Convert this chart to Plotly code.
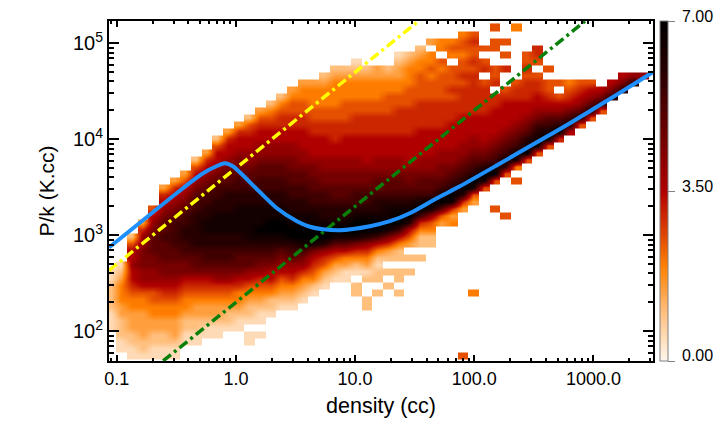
import plotly.graph_objects as go

# Each entry: (first row index from the top, level codes down the column)
# '.' = empty, 1..9,a..e = 0.5 .. 7.0 in steps of 0.5
COLUMNS = [
 (35,"112222111"),
 (34,"1234443322211"),
 (30,"257787765443332211"),
 (28,"36889998875443333221"),
 (26,"5789aaa998875544332211"),
 (23,"36789aabaaa99876544332211"),
 (22,"36789abbbbaa99876544333211"),
 (21,"35789abbccbba9"+"97654432211"),
 (19,"25789abbcccccbaa"+"97654332211"),
 (18,"36789abbccddccbba"+"9765433211"),
 (16,"257789abbccdddccbba"+"9865433211"),
 (15,"367789aabcccdddccbba"+"986543221"),
 (14,"3677899abbccddddccbaa"+"976443211"),
 (13,"25677889aabccdddddcbaa"+"87543221.11"),
 (12,"35677889aabbccdddedcba"+"986543211.1"),
 (11,"245677889aabbccddeedcb"+"a97754221"),
 (10,"2456677889aabbccddeedc"+"a98754321"),
 (9,"345566778899aabbccddeecb"+"a8764321"),
 (8,"3445566777889aabbccddeedb"+"9864321"),
 (8,"34445566777899aabbcddeed"+"9765421"),
 (7,"2344455667778899"+"abbccdeec865321"),
 (6,"23444455666778899"+"aabccdeda75321"),
 (6,"23444555667778899"+"aabccdeda74311"),
 (5,"123444556667778899"+"abbcdeed96421.22"),
 (6,"23444556667777899"+"abbcdeec864312..22"),
 (6,"3344455666777889"+"aabccdeeb742122.2"),
 (6,"2344555666777889"+"aabcdded9632.2.2"),
 (4,"123344556666777889"+"aabcdeeb7422.22.2"),
 (4,"2344455566667777899"+"abcdec753.2.2"),
 (3,"2344555566667777889"+"aabdeb6422.2"),
 (2,"3.445455566667777889"+"aabed85422"),
 (2,"44.54555566667778899"+"abdea53"),
 (2,"454.555656667777889"+"abced634"),
 (1,"4554556566667777889"+"abcec63"+"...................."+"5"),
 (1,"565565666666777889"+"abced53"+"............"+"4"),
 (3,"5.56.56666777789"+"aced5"),
 (0,"5.55..556.66777789"+"abde5...5"),
 (2,"5.5.6..56777789"+"abdc5.....5"),
 (0,"4.......56677789"+"abdd4.5"),
 (4,"55656667789"+"acde5"),
 (3,"665.5667789"+"bcde5"),
 (6,"5.55678abde5"),
 (8,"5.578ace6"),
 (8,"45679bd7"),
 (8,"5678ad5"),
 (8,"578ad5"),
 (9,"79c5"),
 (8,"79c"),
 (7,"79c"),
 (7,"8c"),
 (7,"8"),
]
N_ROWS = 49
X_FIRST_LOG, X_STEP_LOG = -1.05, 0.0895     # bin centres, log10 density
Y_TOP_LOG, Y_STEP_LOG = 5.17, 0.0729        # bin centres, log10 P/k

LINE_N = [0.086,0.129,0.201,0.359,0.529,0.70,0.809,0.944,1.53,2.21,3.25,4.18,5.37,7.45,13.3,19.6,28.8,48.5,75.7,155,335,634,1199,2312,3150]
LINE_P = [745,1114,1736,3090,4425,5300,5623,5230,2943,1910,1400,1226,1155,1127,1242,1400,1695,2427,3236,5358,9310,14680,23700,39260,49900]
YELLOW_N = [0.086, 34]
YELLOW_P = [430, 170000]
GREEN_N = [0.245, 850]
GREEN_P = [49, 170000]

X_TICKS = [0.1, 1, 10, 100, 1000]
X_LABELS = ["0.1", "1.0", "10.0", "100.0", "1000.0"]
Y_TICKS = [100, 1000, 10000, 100000]
Y_LABELS = ["10<sup>2</sup>", "10<sup>3</sup>", "10<sup>4</sup>", "10<sup>5</sup>"]
CB_TICKS = [0, 3.5, 7]
CB_LABELS = ["0.00", "3.50", "7.00"]

CODES = "123456789abcde"
z_top = [[None] * len(COLUMNS) for _ in range(N_ROWS)]
for i, (start, s) in enumerate(COLUMNS):
    for k, c in enumerate(s):
        if c != "." and start + k < N_ROWS:
            z_top[start + k][i] = (CODES.index(c) + 1) * 0.5
z = z_top[::-1]
xc = [10 ** (X_FIRST_LOG + X_STEP_LOG * i) for i in range(len(COLUMNS))]
yc = [10 ** (Y_TOP_LOG - Y_STEP_LOG * j) for j in range(N_ROWS)][::-1]

SCALE = [[0, "#fff6ee"], [0.14, "#ffc080"], [0.28, "#ff8000"], [0.38, "#dc4000"],
         [0.5, "#b00000"], [0.7, "#600000"], [0.85, "#280000"], [1, "#000000"]]

FONT = "Liberation Sans"
fig = go.Figure()
fig.add_trace(go.Heatmap(x=xc, y=yc, z=z, zmin=0, zmax=7, colorscale=SCALE, zsmooth="best",
    hoverongaps=False,
    colorbar=dict(x=1.0129, xanchor="left", xpad=0, ypad=0, thickness=8, len=1, y=0.5, yanchor="middle",
                  outlinecolor="#808080", outlinewidth=1, ticks="outside", ticklen=7, tickcolor="#808080",
                  tickwidth=1, tickvals=CB_TICKS, showticklabels=False)))
fig.add_trace(go.Scatter(x=YELLOW_N, y=YELLOW_P, mode="lines", showlegend=False,
    line=dict(color="#ffff00", width=3.5, dash="10px,4px,3px,4px")))
fig.add_trace(go.Scatter(x=GREEN_N, y=GREEN_P, mode="lines", showlegend=False,
    line=dict(color="#0a800a", width=3.5, dash="10px,4px,3px,4px")))
fig.add_trace(go.Scatter(x=LINE_N, y=LINE_P, mode="lines", showlegend=False,
    line=dict(color="#2090ff", width=4, shape="spline", smoothing=0.7)))

x_minor = [m * 10 ** e for e in range(-2, 4) for m in range(2, 10)]
y_minor = [m * 10 ** e for e in range(1, 6) for m in range(2, 10)]
axis = dict(showgrid=False, zeroline=False, showline=True, linecolor="black", linewidth=2,
            ticks="inside", tickcolor="black", tickwidth=1.5, mirror="allticks", tickmode="array")
cb_y = [0.0176, 0.5118, 1.0118]
fig.update_layout(
    width=725, height=425, margin=dict(l=109, r=72, t=21, b=64),
    paper_bgcolor="white", plot_bgcolor="white", showlegend=False,
    font=dict(family=FONT, color="black"),
    annotations=[dict(xref="paper", yref="paper", x=1.0533, y=yy, text=t, showarrow=False,
                      xanchor="left", yanchor="middle", xshift=-2, font=dict(family=FONT, size=16, color="black"))
                 for yy, t in zip(cb_y, CB_LABELS)],
    xaxis=dict(axis, type="log", range=[-1.065, 3.5], tickvals=X_TICKS, ticktext=X_LABELS, ticklen=6,
               tickfont=dict(size=18), minor=dict(ticks="inside", ticklen=3, tickvals=x_minor, tickcolor="black", tickwidth=1.5),
               title=dict(text="density (cc)", font=dict(size=21.5), standoff=10)),
    yaxis=dict(axis, type="log", range=[1.69, 5.232], tickvals=Y_TICKS, ticktext=Y_LABELS, ticklen=10,
               tickfont=dict(size=20), minor=dict(ticks="inside", ticklen=5, tickvals=y_minor, tickcolor="black", tickwidth=1.5),
               title=dict(text="P/k (K.cc)", font=dict(size=21), standoff=13)),
)
fig.write_html("out.html", config={"displayModeBar": False}, post_script="document.body.style.margin='0';")
